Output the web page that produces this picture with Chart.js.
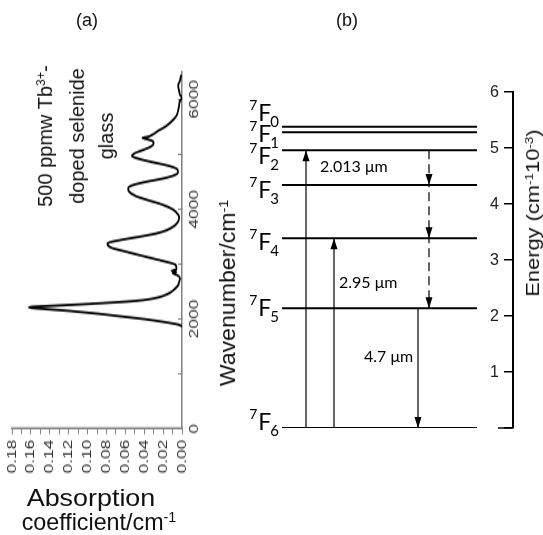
<!DOCTYPE html>
<html>
<head>
<meta charset="utf-8">
<script src="https://cdn.jsdelivr.net/npm/chart.js"></script>
<style>
  body { margin: 0; background: #fff; }
  #page { position: relative; width: 543px; height: 535px; overflow: hidden; background: #fff;
          font-family: "Liberation Sans", Arial, sans-serif; color: #111; }
  #specWrap { position: absolute; left: 0; top: 0; width: 400px; height: 240px;
              transform-origin: 0 0; transform: translateY(535px) rotate(-90deg) scale(1.3375, 1); }
  #levels { position: absolute; left: 240px; top: 0; }
  .txt { position: absolute; white-space: nowrap; transform: translate(-50%, -50%); }
  .rot { position: absolute; white-space: nowrap; text-align: center; transform: translate(-50%, -50%) rotate(-90deg); }
  sup { font-size: 62%; vertical-align: 0; position: relative; top: -0.55em; }
</style>
</head>
<body>
<div id="page">
  <div id="specWrap"><canvas id="spectrum" width="400" height="240"></canvas></div>
  <canvas id="levels" width="303" height="535"></canvas>

  <div class="txt" style="left:87px; top:20px; font-size:18px;">(a)</div>
  <div class="txt" style="left:347px; top:20px; font-size:18px;">(b)</div>
  <div class="rot" style="left:76px; top:136px; font-size:20px; line-height:29px;">500 ppmw Tb<sup>3+</sup>-<br>doped selenide<br>glass</div>
  <div class="txt" style="left:91px; top:498px; font-size:24px; transform: translate(-50%, -50%) scaleX(1.12);">Absorption</div>
  <div class="txt" style="left:99px; top:522px; font-size:24px; transform: translate(-50%, -50%) scaleX(0.97);">coefficient/cm<sup>-1</sup></div>
  <div class="rot" style="left:228px; top:293px; font-size:22px; transform: translate(-50%, -50%) rotate(-90deg) scaleX(1.05);">Wavenumber/cm<sup>-1</sup></div>
  <div class="rot" style="left:533px; top:213px; font-size:19px; transform: translate(-50%, -50%) rotate(-90deg) scaleX(1.15);">Energy (cm<sup>-1</sup>10<sup>-3</sup>)</div>
</div>

<script>
// absorption spectrum, Tb3+ doped selenide glass
const wavenumber = [1870, 1900, 1950, 2000, 2050, 2100, 2150, 2190, 2210, 2225, 2240, 2270, 2300, 2330, 2360,
  2400, 2450, 2500, 2560, 2620, 2680, 2740, 2800, 2840, 2860, 2880, 2900, 2940, 2990, 3040, 3100,
  3160, 3240, 3300, 3380, 3440, 3500, 3560, 3620, 3700, 3780, 3850, 3920, 4000, 4080, 4160, 4240,
  4320, 4380, 4440, 4500, 4560, 4620, 4680, 4740, 4800, 4860, 4920, 4970, 5020, 5080, 5140, 5200,
  5240, 5280, 5300, 5320, 5360, 5420, 5500, 5600, 5700, 5800, 5900, 5980, 6030, 6080, 6150, 6250,
  6350, 6450];
const absorption = [0.000, 0.004, 0.020, 0.040, 0.065, 0.090, 0.120, 0.150, 0.162, 0.158, 0.140, 0.105, 0.075, 0.050, 0.035,
  0.024, 0.016, 0.011, 0.007, 0.004, 0.003, 0.002, 0.005, 0.010, 0.006, 0.011, 0.006, 0.006, 0.007, 0.016, 0.030,
  0.044, 0.062, 0.075, 0.079, 0.065, 0.045, 0.027, 0.016, 0.008, 0.004, 0.003, 0.005, 0.010, 0.020, 0.035, 0.049,
  0.056, 0.057, 0.052, 0.038, 0.020, 0.008, 0.004, 0.006, 0.016, 0.032, 0.046, 0.053, 0.050, 0.041, 0.033, 0.030,
  0.031, 0.038, 0.042, 0.036, 0.031, 0.026, 0.018, 0.011, 0.006, 0.004, 0.003, 0.002, 0.000, 0.002, 0.003, 0.004,
  0.002, 0.001];
const wavenumberTicks = [0, 1000, 2000, 3000, 4000, 5000, 6000];

// 7F_J levels (10^3 cm-1)
const levelJ = ['0', '1', '2', '3', '4', '5', '6'];
const levelEnergy = [5.38, 5.28, 4.96, 4.34, 3.39, 2.14, 0];
const levelShift = [-14, 2, 6, 5, 4, 0, -6];   // label offset from its line, px

// transitions: x position across the diagram, start and end level index
const arrowX = [24, 52, 136];
const arrowFrom = [6, 6, 5];
const arrowTo = [2, 4, 6];
const cascadeX = 147;
const cascadeLevels = [2, 3, 4, 5];

const waveText = ['2.013 \u03bcm', '2.95 \u03bcm', '4.7 \u03bcm'];
const waveX = [38, 57, 82];
const waveE = [4.66, 2.59, 1.27];

const sans = 'Liberation Sans';

// ---------- panel (a) ----------
// drawn as an ordinary x/y plot, the wrapper turns it on its side
new Chart(document.getElementById('spectrum'), {
  type: 'line',
  data: {
    datasets: [{
      data: wavenumber.map((w, i) => ({ x: w, y: absorption[i] })),
      borderColor: '#000',
      borderWidth: 1.8,
      pointRadius: 0,
      cubicInterpolationMode: 'monotone'
    }]
  },
  options: {
    responsive: false,
    animation: false,
    events: [],
    layout: { padding: { left: 0, right: 53.8, top: 12, bottom: 0 } },
    plugins: { legend: { display: false }, tooltip: { enabled: false } },
    scales: {
      x: {
        type: 'linear', min: 0, max: 6500,
        border: { color: '#808080', width: 1.5 },
        grid: { drawOnChartArea: false, tickLength: -4, color: '#808080' },
        afterBuildTicks: s => { s.ticks = wavenumberTicks.map(v => ({ value: v })); },
        ticks: {
          padding: 9, autoSkip: false, maxRotation: 0,
          color: '#333', font: { family: sans, size: 13 },
          callback: v => (v % 2000 === 0 ? String(v) : '')
        },
        afterFit: s => { s.height = 58; }
      },
      y: {
        type: 'linear', min: 0, max: 0.18,
        border: { color: '#808080', width: 1.5 },
        grid: { drawOnChartArea: false, tickLength: 4, color: '#808080' },
        ticks: {
          stepSize: 0.01, padding: 4, autoSkip: false,
          color: '#333', font: { family: sans, size: 13 },
          callback: v => (Math.round(v * 100) % 2 === 0 ? v.toFixed(2) : '')
        },
        afterFit: s => { s.width = 79.3; }
      }
    }
  }
});

// ---------- panel (b) ----------
const levelSets = levelEnergy.map(e => ({
  data: [{ x: 0, y: e }, { x: 195, y: e }],
  borderColor: '#000', borderWidth: 2, pointRadius: 0
}));
const arrowSets = arrowX.map((x, i) => ({
  data: [{ x: x, y: levelEnergy[arrowFrom[i]] }, { x: x, y: levelEnergy[arrowTo[i]] }],
  borderColor: '#000', borderWidth: 1.2, pointRadius: 0, heads: true
}));
const cascadeSet = {
  data: cascadeLevels.map(j => ({ x: cascadeX, y: levelEnergy[j] })),
  borderColor: '#000', borderWidth: 1.2, borderDash: [9, 5], pointRadius: 0, heads: true
};

const diagramText = {
  id: 'diagramText',
  afterDatasetsDraw(chart) {
    const { ctx, scales: { x, y } } = chart;
    ctx.save();
    ctx.fillStyle = '#000';

    // arrow heads at every vertex after the first
    chart.data.datasets.forEach((ds, di) => {
      if (!ds.heads) return;
      const pts = chart.getDatasetMeta(di).data;
      for (let k = 1; k < pts.length; k++) {
        const dir = pts[k].y > pts[k - 1].y ? 1 : -1;
        const px = pts[k].x, py = pts[k].y;
        ctx.beginPath();
        ctx.moveTo(px, py);
        ctx.lineTo(px - 3.5, py - dir * 11);
        ctx.lineTo(px + 3.5, py - dir * 11);
        ctx.closePath();
        ctx.fill();
      }
    });

    // energy tick labels, left of the axis; the zero tick runs a bit longer
    const axisX = x.getPixelForValue(231);
    ctx.strokeStyle = '#000';
    ctx.lineWidth = 1.5;
    ctx.beginPath();
    ctx.moveTo(axisX, y.getPixelForValue(0));
    ctx.lineTo(axisX - 15, y.getPixelForValue(0));
    ctx.stroke();
    ctx.font = '16px "' + sans + '"';
    ctx.fillStyle = '#222';
    ctx.textAlign = 'right';
    ctx.textBaseline = 'middle';
    y.ticks.forEach(t => {
      if (t.value === 0) return;
      ctx.fillText(String(t.value), axisX - 14, y.getPixelForValue(t.value) + 1);
    });
    ctx.fillStyle = '#000';

    // wavelength labels
    ctx.font = '16px Lato';
    ctx.textAlign = 'left';
    waveText.forEach((t, i) => ctx.fillText(t, x.getPixelForValue(waveX[i]), y.getPixelForValue(waveE[i])));

    // level names 7F_J
    const right = x.getPixelForValue(0) - 3;
    levelJ.forEach((j, i) => {
      const yc = y.getPixelForValue(levelEnergy[i]) + levelShift[i];
      ctx.textAlign = 'left';
      ctx.textBaseline = 'alphabetic';
      ctx.font = '15px Lato';
      const wSub = ctx.measureText(j).width;
      ctx.font = '23px Lato';
      const wF = ctx.measureText('F').width;
      ctx.font = '14px Lato';
      const wSup = ctx.measureText('7').width;
      const xF = right - wSub - wF + 1;
      ctx.fillText('7', xF - wSup - 1, yc - 3);
      ctx.font = '23px Lato';
      ctx.fillText('F', xF, yc + 8);
      ctx.font = '15px Lato';
      ctx.fillText(j, xF + wF - 1, yc + 14);
    });
    ctx.restore();
  }
};

new Chart(document.getElementById('levels'), {
  type: 'line',
  data: { datasets: [...levelSets, ...arrowSets, cascadeSet] },
  options: {
    responsive: false,
    animation: false,
    events: [],
    layout: { padding: { left: 42, right: 30, top: 92, bottom: 107 } },
    plugins: { legend: { display: false }, tooltip: { enabled: false } },
    scales: {
      x: { type: 'linear', min: 0, max: 231, display: false },
      y: {
        type: 'linear', min: 0, max: 6,
        position: { x: 231 },
        border: { color: '#000', width: 2 },
        grid: { drawOnChartArea: false, tickLength: 8, color: '#000', lineWidth: 1.5 },
        ticks: { stepSize: 1, display: false }
      }
    }
  },
  plugins: [diagramText]
});
</script>
</body>
</html>
